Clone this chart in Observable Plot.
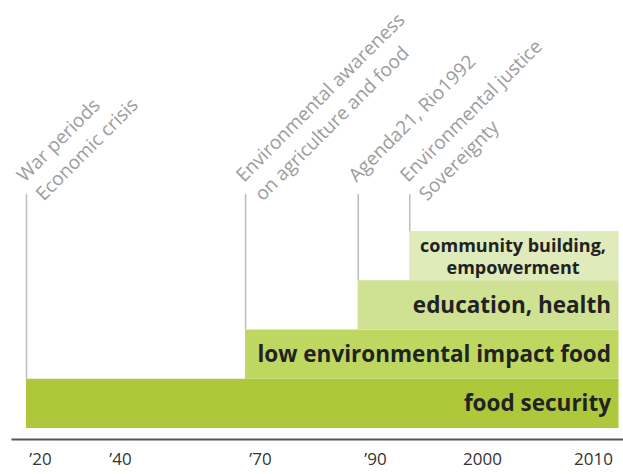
<!DOCTYPE html>
<html>
<head>
<meta charset="utf-8">
<script src="https://cdn.jsdelivr.net/npm/d3@7"></script>
<script src="https://cdn.jsdelivr.net/npm/@observablehq/plot@0.6"></script>
<style>
  html, body { margin: 0; padding: 0; background: #fff; }
  #chart svg { display: block; overflow: visible; }
</style>
</head>
<body>
<div id="chart"></div>
<script>
// Axis ticks
const tickYears = [1920, 1940, 1970, 1990, 2000, 2010];
const tickLabels = ["’20", "’40", "’70", "’90", "2000", "2010"];

// Themes (stacked bars)
const themes = ["food security", "low environmental impact food", "education, health", "community building,\nempowerment"];
const themeStart = [1916.5, 1966.8, 1987, 1993.2];
const themeEnd = [2012.3, 2012.3, 2012.3, 2012.3];
const themeLevel = [0, 1, 2, 3];

// Events (vertical markers with rotated labels)
const eventLabels = ["War periods\nEconomic crisis", "Environmental awareness\non agriculture and food", "Agenda21, Rio1992", "Environmental justice\nSovereignty"];
const eventYears = [1916.5, 1966.8, 1987, 1993.2];
const eventLevel = [1, 2, 3, 4];
const markerTop = 4.75;

const bars = themes.map((t, i) => ({theme: t, start: themeStart[i], end: themeEnd[i], level: themeLevel[i]}));
const events = eventLabels.map((t, i) => ({label: t, year: eventYears[i], level: eventLevel[i]}));

const colors = ["#adc93b", "#bdd761", "#cfe192", "#e0ebbb"];

const chart = Plot.plot({
  width: 623,
  height: 474,
  marginLeft: 12,
  marginRight: 0,
  marginTop: 0,
  marginBottom: 35,
  style: {fontFamily: "'Open Sans', sans-serif", background: "#fff"},
  x: {type: "linear", domain: tickYears, range: [40, 120, 260, 375, 482, 593]},
  y: {domain: [0, 4], range: [428, 231], axis: null},
  color: {domain: themes, range: colors},
  marks: [
    Plot.rect(bars, {x1: "start", x2: "end", y1: "level", y2: d => d.level + 1, fill: "theme"}),
    Plot.ruleX(events, {x: "year", y1: "level", y2: () => markerTop, stroke: "#bdbdbd", strokeWidth: 1.5}),
    Plot.text(events, {x: "year", y: () => markerTop, text: "label", rotate: -45, textAnchor: "start", lineAnchor: "top",
      lineHeight: 1.4, fontSize: 19, fill: "#9c9c9c", dx: -15, dy: -25}),
    Plot.text(bars.filter(d => d.level < 3), {x: "end", y: d => d.level + 0.5, text: "theme", textAnchor: "end",
      fontWeight: "bold", fontSize: 22.5, fill: "#222", dx: -8}),
    Plot.text(bars.filter(d => d.level === 3), {x: d => (d.start + d.end) / 2, y: d => d.level + 0.5, text: "theme",
      textAnchor: "middle", lineHeight: 1.2, fontWeight: "bold", fontSize: 18, fill: "#222"}),
    Plot.axisX({ticks: tickYears, tickFormat: d => tickLabels[tickYears.indexOf(d)], tickSize: 0, tickPadding: 13,
      fontSize: 17, color: "#333", label: null}),
    Plot.frame({anchor: "bottom", stroke: "#555", strokeWidth: 2})
  ]
});
document.getElementById("chart").append(chart);
</script>
</body>
</html>
